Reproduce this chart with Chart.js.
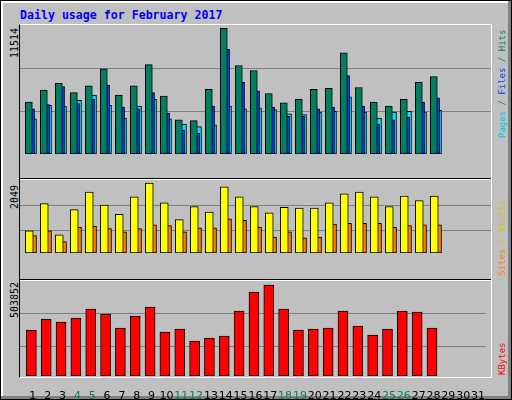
<!DOCTYPE html>
<html><head><meta charset="utf-8">
<script src="https://cdn.jsdelivr.net/npm/chart.js@4"></script>
<style>
html,body{margin:0;padding:0;background:#fff;}
#wrap{position:absolute;left:0;top:0;width:510px;height:398px;background:#C0C0C0;border:1px solid #000;}
#bevR{position:absolute;left:507px;top:0;width:3px;height:398px;background:#808080;}
#bevB{position:absolute;left:0;top:395px;width:510px;height:3px;background:#808080;}
#bevT{position:absolute;left:0;top:0;width:507px;height:2px;background:#fff;}
#bevL{position:absolute;left:0;top:0;width:2px;height:395px;background:#fff;}
.title{position:absolute;left:20px;top:8px;font:bold 11.6px "DejaVu Sans Mono",monospace;color:#0000FF;}
canvas{position:absolute;}
.frame{position:absolute;left:19px;top:24px;width:471px;height:352px;border-left:1px solid #000;border-bottom:1px solid #fff;border-top:1px solid #fff;border-right:1px solid #fff;}
.sep{position:absolute;left:20px;width:471px;height:1px;}
.vl{position:absolute;transform-origin:0 0;transform:rotate(-90deg);font:10px "DejaVu Sans Mono",monospace;white-space:nowrap;}
.vr{position:absolute;transform-origin:0 0;transform:rotate(-90deg);font:9px "DejaVu Sans Mono",monospace;white-space:nowrap;}
</style></head>
<body>
<div id="wrap"><div id="bevT"></div><div id="bevL"></div><div id="bevR"></div><div id="bevB"></div></div>
<div class="title">Daily usage for February 2017</div>
<div class="frame"></div>
<canvas id="c1" width="471" height="152" style="left:20px;top:25px"></canvas>
<canvas id="c2" width="471" height="96" style="left:20px;top:180px"></canvas>
<canvas id="c3" width="471" height="118" style="left:20px;top:281px"></canvas>
<div class="sep" style="top:178px;background:#000"></div><div class="sep" style="top:179px;background:#fff"></div>
<div class="sep" style="top:279px;background:#000"></div><div class="sep" style="top:280px;background:#fff"></div>
<div class="vl" style="left:9px;top:58px">11514</div>
<div class="vl" style="left:9px;top:209px">2049</div>
<div class="vl" style="left:9px;top:318px">503852</div>
<div class="vr" style="left:497px;top:138px"><span style="color:#00C8E8">Pages</span><span style="color:#008060"> / </span><span style="color:#0040FF">Files</span><span style="color:#008060"> / Hits</span></div>
<div class="vr" style="left:497px;top:276px"><span style="color:#FF8000">Sites</span><span style="color:#E0C000"> / Visits</span></div>
<div class="vr" style="left:497px;top:375px"><span style="color:#FF0000">KBytes</span></div>
<script>
const days=[1,2,3,4,5,6,7,8,9,10,11,12,13,14,15,16,17,18,19,20,21,22,23,24,25,26,27,28,29,30,31];
const weekend=[4,5,11,12,18,19,25,26];
const hits=[4771,5860,6483,5627,6249,7805,5393,6249,8194,5316,3138,3060,5938,11514,8116,7649,5549,4693,5004,5938,6016,9283,6094,4771,4382,5004,6560,7105];
const files=[4149,4538,6171,4616,5004,6327,4304,4149,5627,3760,2204,1893,4382,9594,6560,5782,4304,3449,3449,4149,4304,7183,4382,2749,3138,3371,4771,5160];
const pages=[3215,4460,4382,4927,5393,4460,3293,4382,5004,3215,2749,2515,2671,4382,4149,4227,4071,3682,3604,3838,3915,5238,3838,3293,3838,3915,3838,3993];
const visits=[646,1447,534,1269,1781,1402,1135,1647,2049,1469,979,1358,1202,1937,1647,1358,1180,1336,1313,1313,1469,1736,1781,1647,1358,1670,1536,1670];
const sites=[512,646,334,757,779,712,623,712,824,801,623,735,735,1002,957,757,467,623,445,467,846,868,868,868,757,801,824,824];
const kbytes=[254693,315598,298987,321134,370966,343282,265766,332208,382039,243619,260230,193788,210398,221472,359892,465091,503852,370966,254693,260230,265766,359892,276840,227009,260230,359892,354355,265766];

function ds(vals,off,color,w){
  return {data:vals.map((v,i)=>({x:days[i]+off,y:v})),backgroundColor:color,borderColor:'#000',borderWidth:1,borderSkipped:false,barThickness:w,grouped:false};
}
function mk(id,sets,M,grids,showX){
  const el=document.getElementById(id);
  return new Chart(el,{type:'bar',data:{datasets:sets},options:{
    responsive:false,animation:false,
    layout:{padding:0},
    plugins:{legend:{display:false},tooltip:{enabled:false}},
    scales:{
      x:{type:'linear',min:0.133,max:31.533,offset:false,display:showX,
        grid:{display:false},border:{display:false},
        afterBuildTicks:s=>{s.ticks=days.map(d=>({value:d}));},
        afterFit:s=>{s.height=23;},
        ticks:{padding:6,autoSkip:false,maxRotation:0,font:{family:'DejaVu Sans',size:11},
          color:c=>weekend.includes(c.tick.value)?'#008060':'#000',callback:v=>String(v)}},
      y:{min:0,max:M,grid:{color:'#808080',lineWidth:1,drawTicks:false},border:{display:false},
        ticks:{display:false},afterBuildTicks:s=>{s.ticks=grids.map(g=>({value:g}));},afterFit:s=>{s.width=0;}}
    }}});
}
mk('c1',[ds(hits,-0.28,'#008060',7),ds(files,-0.13,'#0040FF',7),ds(pages,0,'#00E0FF',7)],11826,[3890,7858],false);
mk('c2',[ds(visits,-0.25,'#FFFF00',8),ds(sites,0,'#FF8000',7)],2138,[668,1403],false);
mk('c3',[ds(kbytes,-0.1,'#FF0000',10)],526000,[160573,343294],true);
</script>
</body></html>
